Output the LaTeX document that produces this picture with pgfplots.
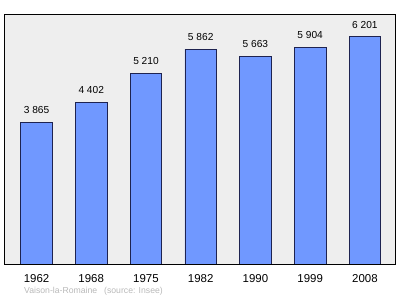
\documentclass[border=0pt]{standalone}
\usepackage{pgfplots}
\pgfplotsset{compat=1.18}
\usepackage{fontspec}
\setmainfont{Liberation Sans}
\definecolor{barfill}{RGB}{112,152,255}
\definecolor{baredge}{RGB}{30,35,80}
\definecolor{plotbg}{RGB}{238,238,238}
\definecolor{srcgray}{RGB}{185,185,185}
\begin{document}
\begin{tikzpicture}[x=1bp,y=1bp]
\useasboundingbox (0,0) rectangle (400,299);
\begin{axis}[
  at={(4bp,35bp)}, anchor=south west,
  scale only axis, width=391bp, height=250bp,
  xmin=-0.594, xmax=6.55, ymin=0, ymax=6821,
  axis background/.style={fill=plotbg},
  axis line style={black, line width=0.8pt},
  xtick=data, xticklabels={1962,1968,1975,1982,1990,1999,2008},
  ytick=\empty,
  major tick length=0pt,
  xticklabel style={font=\fontsize{11.5}{13}\selectfont, yshift=-6.5bp},
  /pgf/number format/assume math mode=true,
  ybar, bar width=31.5bp,
  nodes near coords={\pgfmathprintnumber[1000 sep={\ }]{\pgfplotspointmeta}},
  nodes near coords style={font=\fontsize{10.2}{12}\selectfont, yshift=5bp},
  point meta=explicit,
]
\addplot[fill=barfill, draw=baredge, line width=0.6pt] coordinates {
  (0,3865) [3865] (1,4402) [4402] (2,5210) [5210] (3,5862) [5862]
  (4,5663) [5663] (5,5904) [5904] (6,6201) [6201]
};
\end{axis}
\node[anchor=west, text=srcgray, font=\fontsize{8.7}{10}\selectfont, inner sep=0] at (24,8) {Vaison-la-Romaine\hspace{0.8em}(source: Insee)};
\end{tikzpicture}
\end{document}
